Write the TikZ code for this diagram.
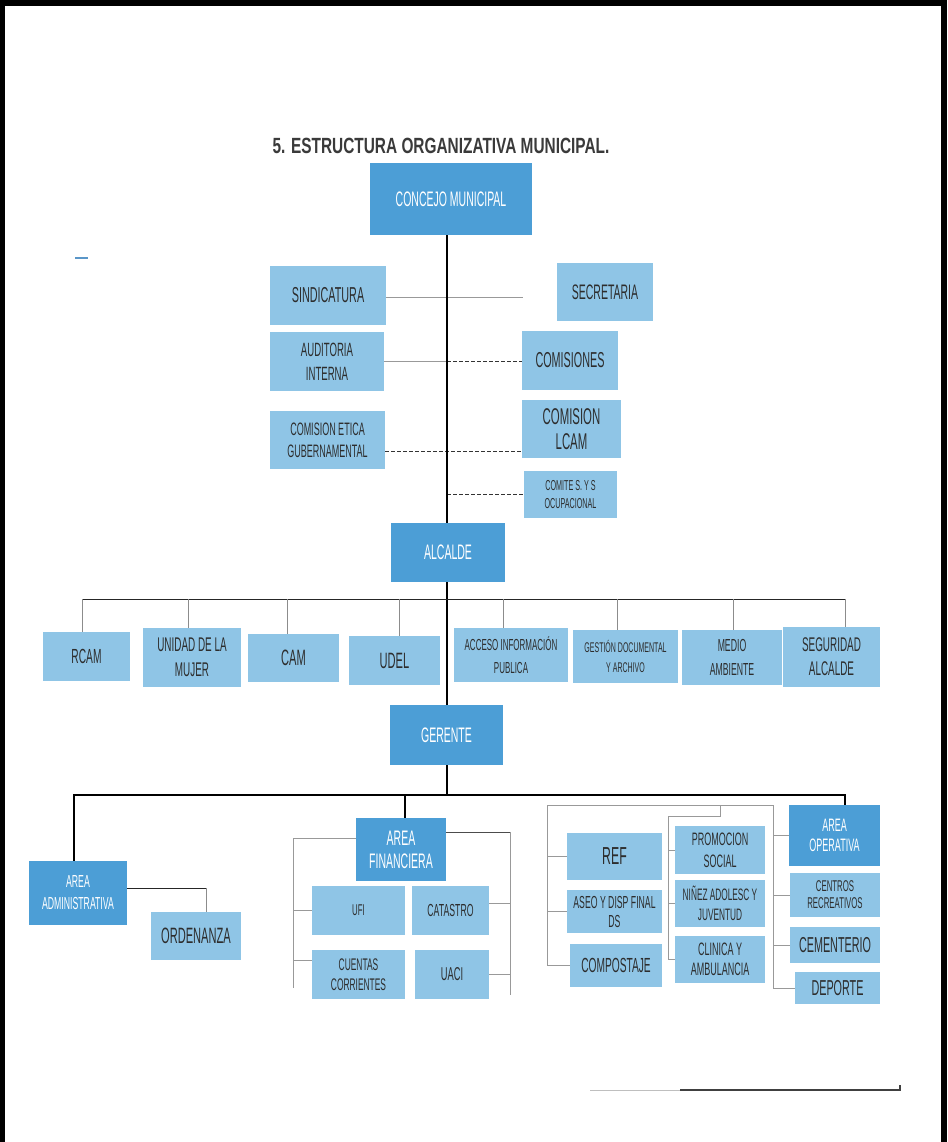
\documentclass[tikz,border=0pt]{standalone}
\usepackage{fontspec}
\newfontfamily\nar{Liberation Sans}[FakeStretch=0.5]
\newfontfamily\titfont{Liberation Sans}[FakeStretch=0.7]
\definecolor{dblue}{RGB}{76,158,214}
\definecolor{lblue}{RGB}{143,197,230}
\definecolor{txtc}{RGB}{45,45,45}
\definecolor{titc}{RGB}{58,58,58}
\definecolor{markc}{RGB}{90,150,200}
\newcommand\bx[9]{\node[#2, minimum width={(#5-#3)*1pt}, minimum height={(#6-#4)*1pt}, font={\nar\fontsize{\fpeval{#7*1.2}}{#8}\selectfont}] (#1) at ({(#3+#5)/2},{(#4+#6)/2}) {#9};}
\tikzset{
  lbox/.style={fill=lblue, text=txtc, inner sep=1pt, align=center},
  dbox/.style={fill=dblue, text=white, inner sep=1pt, align=center},
  spine/.style={draw=black, line width=1.5pt},
  busline/.style={draw=black!85, line width=0.9pt},
  drop/.style={draw=black!45, line width=0.6pt},
  gline/.style={draw=black!40, line width=0.6pt},
  dline/.style={draw=black!80, line width=0.9pt, dash pattern=on 3.5pt off 2.5pt},
}
\begin{document}
\begin{tikzpicture}[x=1pt,y=-1pt]
\useasboundingbox (0,0) rectangle (947,1142);
% frame
\fill[black] (0,0) rectangle (947,6);
\fill[black] (0,0) rectangle (5,1142);
\fill[black] (941,0) rectangle (947,1142);
% title
\node[font={\titfont\fontsize{22}{24}\selectfont\bfseries}, text=titc, inner sep=0] (title) at (441,146) {5. ESTRUCTURA ORGANIZATIVA MUNICIPAL.};
% small mark
\draw[markc, line width=2.5pt] (75,258) -- (88,258);
% boxes
\bx{concejo}{dbox}{370}{163}{532}{235}{17.5}{21}{CONCEJO MUNICIPAL}
\bx{sind}{lbox}{270}{266}{386}{325}{18}{22}{SINDICATURA}
\bx{secr}{lbox}{557}{263}{653}{321}{17.5}{22}{SECRETARIA}
\bx{aud}{lbox}{270}{332}{384}{391}{16}{24}{AUDITORIA\\INTERNA}
\bx{comis}{lbox}{522}{331}{618}{390}{18}{22}{COMISIONES}
\bx{etica}{lbox}{270}{411}{385}{469}{15}{22}{COMISION ETICA\\GUBERNAMENTAL}
\bx{lcam}{lbox}{522}{400}{621}{458}{19}{25}{COMISION\\LCAM}
\bx{comite}{lbox}{524}{471}{617}{518}{12}{18}{COMITE S. Y S\\OCUPACIONAL}
\bx{alcalde}{dbox}{391}{523}{505}{582}{17.5}{21}{ALCALDE}
\bx{rcam}{lbox}{43}{632}{130}{681}{17}{21}{RCAM}
\bx{unidad}{lbox}{143}{628}{241}{687}{16.5}{25}{UNIDAD DE LA\\MUJER}
\bx{cam}{lbox}{248}{634}{339}{682}{18.5}{21}{CAM}
\bx{udel}{lbox}{349}{636}{440}{685}{18.5}{21}{UDEL}
\bx{acceso}{lbox}{454}{628}{568}{682}{13.3}{23}{ACCESO INFORMACIÓN\\PUBLICA}
\bx{gestion}{lbox}{573}{630}{678}{683}{11.7}{20}{GESTIÓN DOCUMENTAL\\Y ARCHIVO}
\bx{medio}{lbox}{682}{630}{782}{685}{14.5}{24}{MEDIO\\AMBIENTE}
\bx{seg}{lbox}{783}{627}{880}{687}{16.5}{24}{SEGURIDAD\\ALCALDE}
\bx{gerente}{dbox}{390}{705}{503}{765}{17.5}{21}{GERENTE}
\bx{admin}{dbox}{29}{861}{127}{925}{14.5}{22}{AREA\\ADMINISTRATIVA}
\bx{orden}{lbox}{151}{912}{241}{960}{18.5}{21}{ORDENANZA}
\bx{fin}{dbox}{356}{818}{446}{881}{17.5}{23}{AREA\\FINANCIERA}
\bx{ufi}{lbox}{312}{886}{405}{935}{13}{18}{UFI}
\bx{catastro}{lbox}{412}{886}{489}{935}{14.5}{18}{CATASTRO}
\bx{cuentas}{lbox}{312}{950}{405}{999}{14}{20}{CUENTAS\\CORRIENTES}
\bx{uaci}{lbox}{415}{950}{489}{999}{15.5}{18}{UACI}
\bx{ref}{lbox}{567}{833}{662}{880}{20.5}{24}{REF}
\bx{aseo}{lbox}{567}{890}{662}{933}{14.5}{19}{ASEO Y DISP FINAL\\DS}
\bx{compost}{lbox}{570}{944}{662}{987}{17}{20}{COMPOSTAJE}
\bx{promo}{lbox}{675}{826}{765}{874}{15}{22}{PROMOCION\\SOCIAL}
\bx{ninez}{lbox}{675}{880}{765}{927}{13.8}{20}{NIÑEZ ADOLESC Y\\JUVENTUD}
\bx{clinica}{lbox}{675}{936}{765}{983}{15}{20}{CLINICA Y\\AMBULANCIA}
\bx{oper}{dbox}{789}{805}{880}{866}{15}{20}{AREA\\OPERATIVA}
\bx{centros}{lbox}{790}{873}{880}{917}{13}{17}{CENTROS\\RECREATIVOS}
\bx{cement}{lbox}{790}{927}{880}{963}{18}{20}{CEMENTERIO}
\bx{deporte}{lbox}{795}{972}{880}{1004}{18}{20}{DEPORTE}
% named coordinates
\coordinate (g0) at (447,795);
\coordinate (sEnd) at (523,297);
\coordinate (b1) at (82,599);
\coordinate (b2) at (188,599);
\coordinate (b3) at (287,599);
\coordinate (b4) at (399,599);
\coordinate (b5) at (503,599);
\coordinate (b6) at (617,599);
\coordinate (b7) at (733,599);
\coordinate (b8) at (845,599);
\coordinate (ga) at (74,795);
\coordinate (gb) at (405,795);
\coordinate (gc) at (845,795);
\coordinate (oa) at (206,888);
\coordinate (fl1) at (293,838);
\coordinate (fl2) at (293,988);
\coordinate (fr1) at (510,832);
\coordinate (fr2) at (510,995);
\coordinate (o1) at (547,805);
\coordinate (o2) at (773,805);
\coordinate (i1) at (668,816);
\coordinate (i2) at (720,816);
\coordinate (bl1) at (590,1090);
\coordinate (bl2) at (680,1090);
\coordinate (bl3) at (900,1090);
\coordinate (bl4) at (900,1085);
% council section
\draw[gline] (sind.east |- sEnd) -- (sEnd);
\draw[gline] (aud.east) -- (aud.east -| g0);
\draw[dline] (aud.east -| g0) -- (aud.east -| comis.west);
\draw[dline] ([yshift=-11pt]etica.east) -- ([yshift=-11pt]etica.east -| lcam.west);
\draw[dline] (comite.west -| g0) -- (comite.west);
% spine
\draw[spine] (concejo.south -| g0) -- (alcalde.north -| g0);
\draw[spine] (alcalde.south -| g0) -- (gerente.north -| g0);
\draw[spine] (gerente.south -| g0) -- (g0);
% alcalde bus
\draw[busline] (b1) -- (b8);
\draw[drop] (b1) -- (b1 |- rcam.north);
\draw[drop] (b2) -- (b2 |- unidad.north);
\draw[drop] (b3) -- (b3 |- cam.north);
\draw[drop] (b4) -- (b4 |- udel.north);
\draw[drop] (b5) -- (b5 |- acceso.north);
\draw[drop] (b6) -- (b6 |- gestion.north);
\draw[drop] (b7) -- (b7 |- medio.north);
\draw[drop] (b8) -- (b8 |- seg.north);
% gerente bus
\draw[spine, line width=1.3pt] (ga |- admin.north) -- (ga) -- (gc) -- (gc |- oper.north);
\draw[spine, line width=1.3pt] (gb) -- (gb |- fin.north);
% administrativa
\draw[busline] (admin.east |- oa) -- (oa);
\draw[drop] (oa) -- (oa |- orden.north);
% financiera brackets
\draw[gline] (fin.west |- fl1) -- (fl1) -- (fl2);
\draw[gline] (fl1 |- ufi.west) -- (ufi.west);
\draw[gline] ([yshift=14pt]cuentas.west -| fl1) -- ([yshift=14pt]cuentas.west);
\draw[busline, draw=black!70, line width=0.7pt] (fin.east |- fr1) -- (fr1);
\draw[gline] (fr1) -- (fr2);
\draw[gline] ([yshift=7pt]catastro.east) -- ([yshift=7pt]catastro.east -| fr1);
\draw[gline] (uaci.east) -- (uaci.east -| fr1);
% operativa group brackets
\draw[gline] (compost.west -| o1) -- (o1) -- (o2) -- (o2 |- deporte.west) -- (deporte.west);
\draw[gline] (ref.west -| o1) -- (ref.west);
\draw[gline] (aseo.west -| o1) -- (aseo.west);
\draw[gline] (compost.west -| o1) -- (compost.west);
\draw[gline] (clinica.west -| i1) -- (i1) -- (i2) -- (i2 |- o1);
\draw[gline] (promo.west -| i1) -- (promo.west);
\draw[gline] (ninez.west -| i1) -- (ninez.west);
\draw[gline] (clinica.west -| i1) -- (clinica.west);
\draw[gline] (oper.west -| o2) -- (oper.west);
\draw[gline] (centros.west -| o2) -- (centros.west);
\draw[gline] (cement.west -| o2) -- (cement.west);
% bottom line
\draw[black!25, line width=1pt] (bl1) -- (bl2);
\draw[black!75, line width=1.3pt] (bl2) -- (bl3) -- (bl4);
\end{tikzpicture}
\end{document}
